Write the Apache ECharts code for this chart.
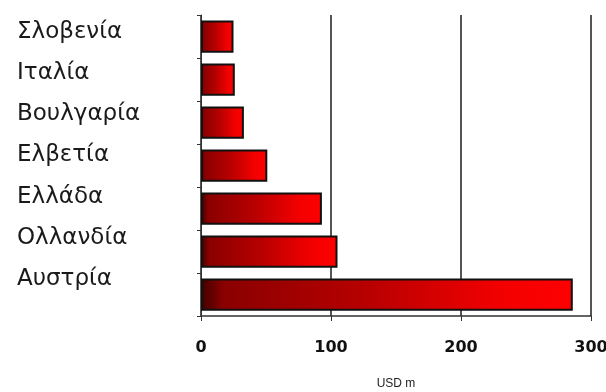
<!DOCTYPE html>
<html><head><meta charset="utf-8">
<script src="https://cdn.jsdelivr.net/npm/echarts@6/dist/echarts.min.js"></script>
<style>html,body{margin:0;padding:0;background:#fff}#c{width:606px;height:392px}</style>
</head><body><div id="c"></div>
<script>
var categories = ['Σλοβενία','Ιταλία','Βουλγαρία','Ελβετία','Ελλάδα','Ολλανδία','Αυστρία'];
var values = [25, 26, 33, 51, 93, 105, 286];
var xTicks = [0, 100, 200, 300];
var axisTitle = 'USD m';

var chart = echarts.init(document.getElementById('c'));
chart.setOption({
  animation: false,
  grid: [
    {left: 201, right: 15, top: 15, bottom: 76, outerBoundsMode: 'none', containLabel: false},
    {left: 201, right: 15, top: 11, height: 289, outerBoundsMode: 'none', containLabel: false}
  ],
  xAxis: [{
    gridIndex: 0, type: 'value', min: xTicks[0], max: xTicks[xTicks.length-1], interval: 100,
    name: axisTitle, nameLocation: 'middle', nameGap: 62,
    nameTextStyle: {fontFamily: 'Liberation Sans', fontSize: 12, color: '#222'},
    axisLine: {show: true, lineStyle: {color: '#333', width: 1.5}},
    axisTick: {show: true, length: 5, lineStyle: {color: '#333'}},
    axisLabel: {fontFamily: 'DejaVu Sans', fontWeight: 'bold', fontSize: 16, color: '#111', margin: 24},
    splitLine: {show: true, lineStyle: {color: '#555', width: 2}}
  }, {
    gridIndex: 1, type: 'value', show: false
  }],
  yAxis: [{
    gridIndex: 0, type: 'category', data: categories, inverse: true,
    axisLine: {show: true, lineStyle: {color: '#333', width: 1}},
    axisTick: {show: true, length: 4, lineStyle: {color: '#333'}},
    axisLabel: {show: false}
  }, {
    gridIndex: 1, type: 'category', data: categories, inverse: true,
    axisLine: {show: false}, axisTick: {show: false},
    axisLabel: {show: true, align: 'left', margin: 184, fontFamily: 'DejaVu Sans', fontSize: 23, color: '#1a1a1a'}
  }],
  series: [{
    type: 'bar', xAxisIndex: 0, yAxisIndex: 0, data: values,
    barCategoryGap: '25%',
    itemStyle: {
      borderColor: '#111', borderWidth: 2,
      color: new echarts.graphic.LinearGradient(0, 0, 1, 0, [
        {offset: 0, color: '#400000'},
        {offset: 0.06, color: '#8a0000'},
        {offset: 0.45, color: '#b80000'},
        {offset: 0.8, color: '#f20000'},
        {offset: 1, color: '#ff0000'}
      ])
    }
  }]
});
</script></body></html>
